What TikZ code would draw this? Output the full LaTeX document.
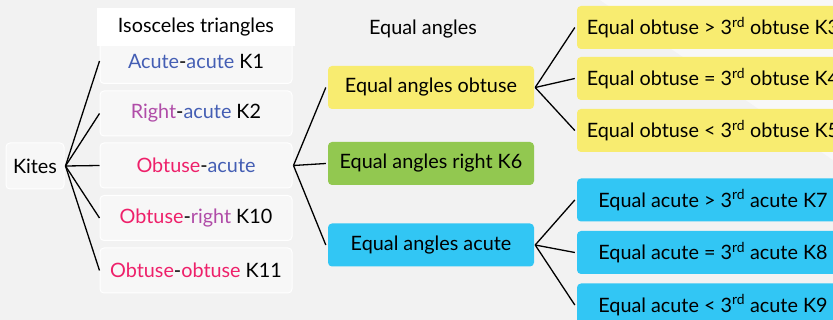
\documentclass[tikz,border=0pt]{standalone}
\usepackage{fontspec}
\setmainfont{Lato}
\definecolor{bgc}{RGB}{242,242,242}
\definecolor{acol}{RGB}{68,94,180}
\definecolor{rcol}{RGB}{176,76,168}
\definecolor{ocol}{RGB}{238,32,106}
\definecolor{ylw}{RGB}{248,236,112}
\definecolor{grn}{RGB}{146,200,80}
\definecolor{blu}{RGB}{50,198,244}
\newcommand{\A}[1]{\textcolor{acol}{#1}}
\newcommand{\R}[1]{\textcolor{rcol}{#1}}
\newcommand{\Ob}[1]{\textcolor{ocol}{#1}}
\begin{document}
\begin{tikzpicture}[x=1pt,y=-1pt,
  every node/.style={font=\fontsize{19.8}{22}\selectfont, inner sep=0pt},
  ghost/.style={draw=white, line width=1pt, fill=white, fill opacity=0.45, text opacity=1, rounded corners=4pt},
  colbox/.style={rounded corners=4pt, minimum height=43pt},
  conn/.style={line width=1.3pt, black}]
\useasboundingbox (0,0) rectangle (833,320);
\fill[bgc] (0,0) rectangle (833,320);
\fill[white, opacity=0.5] (833,0) -- (600,0) -- (833,160) -- cycle;
\begin{scope}
\clip (0,0) rectangle (833,320);
% left column
\node[ghost, minimum width=58pt, minimum height=46pt] (kites) at (35,166) {Kites};
\node[ghost, minimum width=192pt, minimum height=45pt] (k1) at (196,61) {\A{Acute}-\A{acute} K1};
\node[ghost, minimum width=192pt, minimum height=45pt] (k2) at (196,113.5) {\R{Right}-\A{acute} K2};
\node[ghost, minimum width=192pt, minimum height=45pt] (oa) at (196,165.5) {\Ob{Obtuse}-\A{acute}};
\node[ghost, minimum width=192pt, minimum height=45pt] (k10) at (196,218) {\Ob{Obtuse}-\R{right} K10};
\node[ghost, minimum width=192pt, minimum height=45pt] (k11) at (196,270.5) {\Ob{Obtuse}-\Ob{obtuse} K11};
\node[fill=white, minimum width=198pt, minimum height=38pt] (hdr) at (196,27) {Isosceles triangles};
\node (eqa) at (423,29) {Equal angles};
% middle
\node[colbox, fill=ylw, minimum width=206pt] (mo) at (431,87.5) {Equal angles obtuse};
\node[colbox, fill=grn, minimum width=206pt] (mr) at (431,163.5) {Equal angles right K6};
\node[colbox, fill=blu, minimum width=206pt] (ma) at (431,245) {Equal angles acute};
% right
\node[colbox, fill=ylw, minimum width=272pt] (k3) at (713,27.5) {Equal obtuse > 3\textsuperscript{rd} obtuse K3};
\node[colbox, fill=ylw, minimum width=272pt] (k4) at (713,78.5) {Equal obtuse = 3\textsuperscript{rd} obtuse K4};
\node[colbox, fill=ylw, minimum width=272pt] (k5) at (713,130.5) {Equal obtuse < 3\textsuperscript{rd} obtuse K5};
\node[colbox, fill=blu, minimum width=272pt] (k7) at (713,200) {Equal acute > 3\textsuperscript{rd} acute K7};
\node[colbox, fill=blu, minimum width=272pt] (k8) at (713,252.5) {Equal acute = 3\textsuperscript{rd} acute K8};
\node[colbox, fill=blu, minimum width=272pt] (k9) at (713,305) {Equal acute < 3\textsuperscript{rd} acute K9};
% connectors
\coordinate (f0) at ([xshift=1pt]kites.east);
\foreach \t in {k1,k2,oa,k10,k11} \draw[conn] (f0) -- (\t.west);
\coordinate (f1) at ([xshift=1pt]oa.east);
\foreach \t in {mo,mr,ma} \draw[conn] (f1) -- ([xshift=-2pt]\t.west);
\coordinate (f2) at ([xshift=1pt]mo.east);
\foreach \t in {k3,k4,k5} \draw[conn] (f2) -- ([xshift=-2pt]\t.west);
\coordinate (f3) at ([xshift=1pt]ma.east);
\foreach \t in {k7,k8,k9} \draw[conn] (f3) -- ([xshift=-2pt]\t.west);
\end{scope}
\end{tikzpicture}
\end{document}
